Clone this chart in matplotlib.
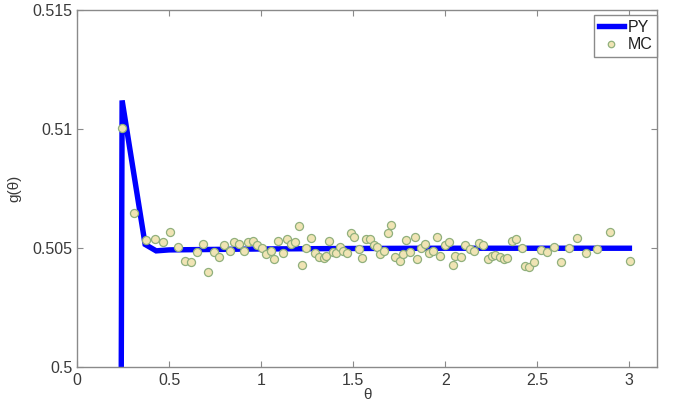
import matplotlib
matplotlib.use("Agg")
import matplotlib.pyplot as plt

# ---- data ----
py_theta = [0.240, 0.245, 0.370, 0.430, 0.500, 1.000, 1.500, 2.000, 2.500, 3.000]
py_g = [0.4990, 0.51120, 0.50515, 0.50488, 0.50492, 0.50496, 0.50498, 0.50499, 0.50499, 0.50499]

mc_theta = [0.243, 0.312, 0.373, 0.424, 0.469, 0.507, 0.547, 0.587, 0.620, 0.652,
            0.686, 0.712, 0.745, 0.772, 0.801, 0.830, 0.855, 0.882, 0.908, 0.931,
            0.958, 0.980, 1.004, 1.027, 1.051, 1.072, 1.094, 1.118, 1.140, 1.163,
            1.185, 1.203, 1.224, 1.245, 1.270, 1.292, 1.317, 1.339, 1.350, 1.371,
            1.390, 1.408, 1.429, 1.447, 1.466, 1.487, 1.507, 1.533, 1.547, 1.567,
            1.589, 1.614, 1.629, 1.647, 1.668, 1.689, 1.707, 1.727, 1.752, 1.768,
            1.788, 1.810, 1.833, 1.846, 1.870, 1.891, 1.913, 1.931, 1.955, 1.973,
            1.996, 2.018, 2.040, 2.054, 2.087, 2.109, 2.132, 2.158, 2.181, 2.205,
            2.232, 2.254, 2.272, 2.295, 2.317, 2.335, 2.362, 2.384, 2.417, 2.435,
            2.453, 2.484, 2.520, 2.553, 2.589, 2.627, 2.672, 2.716, 2.766, 2.824,
            2.897, 3.002]
mc_g = [0.51003, 0.50648, 0.50534, 0.50538, 0.50526, 0.50569, 0.50504, 0.50445, 0.50440, 0.50484,
        0.50517, 0.50399, 0.50484, 0.50462, 0.50513, 0.50487, 0.50526, 0.50517, 0.50489, 0.50524,
        0.50531, 0.50511, 0.50499, 0.50475, 0.50487, 0.50455, 0.50531, 0.50480, 0.50537, 0.50517,
        0.50526, 0.50592, 0.50430, 0.50501, 0.50541, 0.50478, 0.50463, 0.50457, 0.50466, 0.50531,
        0.50484, 0.50478, 0.50503, 0.50489, 0.50478, 0.50564, 0.50545, 0.50496, 0.50457, 0.50539,
        0.50537, 0.50513, 0.50503, 0.50474, 0.50487, 0.50562, 0.50595, 0.50463, 0.50444, 0.50474,
        0.50534, 0.50484, 0.50547, 0.50454, 0.50499, 0.50516, 0.50480, 0.50489, 0.50545, 0.50468,
        0.50513, 0.50524, 0.50427, 0.50468, 0.50461, 0.50513, 0.50495, 0.50487, 0.50522, 0.50513,
        0.50453, 0.50466, 0.50471, 0.50461, 0.50454, 0.50459, 0.50531, 0.50537, 0.50499, 0.50424,
        0.50421, 0.50442, 0.50492, 0.50483, 0.50503, 0.50440, 0.50499, 0.50543, 0.50480, 0.50497,
        0.50566, 0.50447]

xticks = [0, 0.5, 1, 1.5, 2, 2.5, 3]
xticklabels = ["0", "0.5", "1", "1.5", "2", "2.5", "3"]
yticks = [0.5, 0.505, 0.51, 0.515]
yticklabels = ["0.5", "0.505", "0.51", "0.515"]

plt.rcParams['font.family'] = ['Liberation Sans', 'DejaVu Sans']

fig = plt.figure(figsize=(6.74, 4.03), dpi=100)
ax = fig.add_axes([77/674, 1-367/403, (657-77)/674, (367-10)/403])

ax.plot(py_theta, py_g, color='#0000ff', lw=3.9, solid_joinstyle='miter', label='PY', zorder=2)
ax.plot(mc_theta, mc_g, ls='none', marker='o', ms=5.8, mfc='#f0e4b4', mec='#90b07c', mew=0.9,
        label='MC', zorder=3)

ax.set_xlim(0, 3.15)
ax.set_ylim(0.5, 0.515)
ax.set_xticks(xticks)
ax.set_xticklabels(xticklabels)
ax.set_yticks(yticks)
ax.set_yticklabels(yticklabels)

txtc = '#3a3a3a'
for s in ax.spines.values():
    s.set_color('#8a8a8a')
    s.set_linewidth(1.0)
ax.tick_params(direction='in', length=4, width=0.8, color='#8a8a8a', top=True, right=True,
               labelsize=11.5, labelcolor=txtc)
ax.tick_params(axis='x', pad=4)
ax.tick_params(axis='y', pad=3)

ax.set_xlabel('θ', fontsize=11, color=txtc, labelpad=0)
ax.set_ylabel('g(θ)', fontsize=11, color=txtc, labelpad=8)

leg = ax.legend(loc='upper right', bbox_to_anchor=(1.0, 1 - 5/357), borderaxespad=0,
                fancybox=False, framealpha=1, edgecolor='#8a8a8a', fontsize=11.5,
                handlelength=1.6, handletextpad=0.2, borderpad=0.3, labelspacing=0.15,
                markerscale=0.8)
leg.get_frame().set_linewidth(1.0)
for t in leg.get_texts():
    t.set_color('#202020')

fig.savefig('out.png', dpi=100)
